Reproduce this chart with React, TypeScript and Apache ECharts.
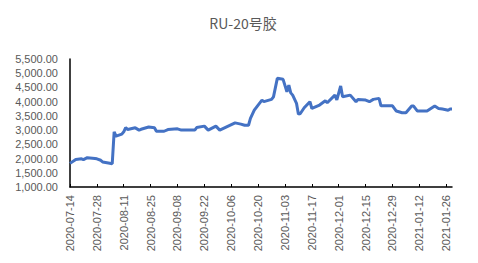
import React, { useEffect, useRef } from "react";
import * as echarts from "echarts";

const titleText = "RU-20号胶";
const startDate = "2020-07-14";
const endDate = "2021-01-29";

const pointDates = [
  "2020-07-14", "2020-07-17", "2020-07-20", "2020-07-21", "2020-07-23", "2020-07-27", "2020-07-28",
  "2020-07-30", "2020-07-31", "2020-08-03", "2020-08-05", "2020-08-06", "2020-08-07", "2020-08-10",
  "2020-08-11", "2020-08-12", "2020-08-13", "2020-08-17", "2020-08-19", "2020-08-20", "2020-08-24",
  "2020-08-27", "2020-08-28", "2020-09-01", "2020-09-03", "2020-09-08", "2020-09-10", "2020-09-17",
  "2020-09-18", "2020-09-22", "2020-09-24", "2020-09-28", "2020-09-30", "2020-10-08", "2020-10-11",
  "2020-10-13", "2020-10-15", "2020-10-16", "2020-10-18", "2020-10-20", "2020-10-22", "2020-10-23",
  "2020-10-27", "2020-10-28", "2020-10-30", "2020-11-02", "2020-11-04", "2020-11-05", "2020-11-06",
  "2020-11-07", "2020-11-09", "2020-11-10", "2020-11-11", "2020-11-13", "2020-11-16", "2020-11-17",
  "2020-11-21", "2020-11-24", "2020-11-25", "2020-11-29", "2020-11-30", "2020-12-02", "2020-12-03",
  "2020-12-07", "2020-12-10", "2020-12-11", "2020-12-15", "2020-12-17", "2020-12-19", "2020-12-22",
  "2020-12-23", "2020-12-29", "2020-12-31", "2021-01-03", "2021-01-05", "2021-01-08", "2021-01-09",
  "2021-01-11", "2021-01-16", "2021-01-20", "2021-01-22", "2021-01-24", "2021-01-27", "2021-01-28",
  "2021-01-29",
];

const pointValues = [
  1830, 1970, 1990, 1960, 2030, 2000, 1990,
  1940, 1880, 1845, 1820, 2940, 2790, 2860,
  2940, 3090, 3020, 3080, 3000, 3030, 3110,
  3080, 2960, 2960, 3020, 3045, 3000, 3000,
  3090, 3140, 3000, 3140, 3000, 3255, 3210,
  3170, 3170, 3410, 3700, 3880, 4055, 4000,
  4080, 4170, 4820, 4785, 4350, 4580, 4310,
  4230, 3940, 3560, 3585, 3785, 4000, 3760,
  3880, 4030, 3960, 4230, 4060, 4550, 4170,
  4230, 4000, 4080, 4055, 4000, 4080, 4115,
  3855, 3855, 3670, 3610, 3610, 3845, 3845,
  3670, 3670, 3845, 3760, 3740, 3700, 3740,
  3740,
];

const yMin = 1000;
const yMax = 5500;
const yInterval = 500;

function buildDays(start: string, end: string): string[] {
  const out: string[] = [];
  const d = new Date(start + "T00:00:00Z");
  const e = new Date(end + "T00:00:00Z");
  while (d.getTime() <= e.getTime()) {
    out.push(d.toISOString().slice(0, 10));
    d.setUTCDate(d.getUTCDate() + 1);
  }
  return out;
}

export default function App() {
  const ref = useRef<HTMLDivElement>(null);
  useEffect(() => {
    if (!ref.current) return;
    const chart = echarts.init(ref.current, null, { renderer: "svg" });
    const days = buildDays(startDate, endDate);
    const lookup: Record<string, number> = {};
    pointDates.forEach((d, i) => (lookup[d] = pointValues[i]));
    const seriesData = days.map((d) => (d in lookup ? lookup[d] : null));
    const fmt = (v: number) =>
      v.toLocaleString("en-US", { minimumFractionDigits: 2, maximumFractionDigits: 2 });
    chart.setOption({
      animation: false,
      title: {
        text: titleText,
        left: 238,
        textAlign: "center",
        top: 11,
        textStyle: {
          fontSize: 14,
          fontWeight: "normal",
          color: "#595959",
          fontFamily: "Noto Sans CJK SC",
        },
      },
      grid: { left: 70, right: 26, top: 59, bottom: 76, containLabel: false },
      xAxis: {
        type: "category",
        data: days,
        boundaryGap: false,
        axisLine: { lineStyle: { color: "#000", width: 1.5 } },
        axisTick: { interval: 13, inside: true, length: 3, lineStyle: { color: "#000" } },
        axisLabel: {
          interval: 13,
          rotate: 90,
          margin: 8,
          fontSize: 11,
          color: "#595959",
          fontFamily: "Liberation Sans",
        },
        splitLine: { show: false },
      },
      yAxis: {
        type: "value",
        min: yMin,
        max: yMax,
        interval: yInterval,
        axisLine: { show: true, lineStyle: { color: "#000", width: 1.5 } },
        axisTick: { show: false },
        splitLine: { show: false },
        axisLabel: {
          margin: 12,
          fontSize: 11,
          color: "#595959",
          fontFamily: "Liberation Sans",
          formatter: (v: number) => fmt(v),
        },
      },
      series: [
        {
          type: "line",
          data: seriesData,
          connectNulls: true,
          showSymbol: false,
          symbol: "none",
          lineStyle: { color: "#4472C4", width: 3 },
        },
      ],
    });
    return () => chart.dispose();
  }, []);
  return <div ref={ref} style={{ width: 478, height: 263, position: "absolute", left: 0, top: 0 }} />;
}
